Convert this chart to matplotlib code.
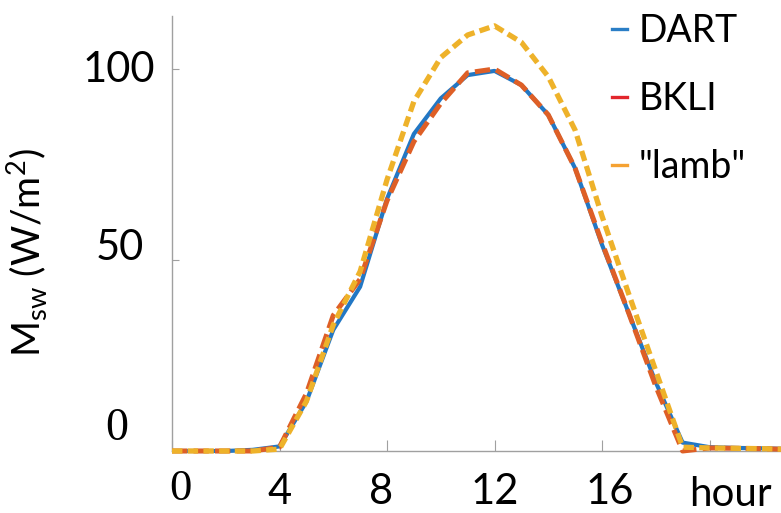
import matplotlib
matplotlib.use("Agg")
import matplotlib.pyplot as plt
import matplotlib.transforms as mtransforms
from matplotlib.lines import Line2D

# ---- data ----
hours = list(range(0, 25))
dart = [0, 0, 0, 0.3, 1.2, 12.9, 31.7, 43, 66, 83, 92.3, 98.4, 99.5, 95.8, 88,
        74, 54, 36, 18, 2.2, 1.0, 0.8, 0.7, 0.5, 0]
bkli = [0, 0, 0, 0, 1.0, 15, 35.5, 45, 65.5, 81, 91, 99, 100, 95.8, 88,
        74, 54.5, 36, 17, 0, 0.8, 0.7, 0.6, 0.4, 0]
lamb = [0, 0, 0, 0, 0.5, 13, 33, 47, 71, 91.5, 103, 108.9, 111.3, 107, 98,
        84, 61.5, 41, 21, 1.0, 0.8, 0.7, 0.6, 0.4, 0]
series_names = ["DART", "BKLI", "\"lamb\""]
x_ticks = [0, 4, 8, 12, 16, 20]
x_ticklabels = ["0", "4", "8", "12", "16", ""]
y_ticks = [0, 50, 100]
y_ticklabels = ["0", "50", "100"]

plt.rcParams['lines.scale_dashes'] = False
FONT = ['Lato', 'DejaVu Sans']
plt.rcParams['font.family'] = FONT
plt.rcParams['mathtext.fontset'] = 'custom'
plt.rcParams['mathtext.rm'] = 'Lato'

W, H = 781, 513
fig = plt.figure(figsize=(W / 100, H / 100), dpi=100)
x0, y0, ytop = 172, 451, 16
ax = fig.add_axes([x0 / W, (H - y0) / H, 1 - x0 / W, (y0 - ytop) / H])

c_blue = "#2277C4"
c_orange = "#DE5F26"
c_yellow = "#EEB22A"

ax.plot(hours, dart, color=c_blue, lw=3.0, solid_capstyle='butt', clip_on=False, zorder=3)
ax.plot(hours, bkli, color=c_orange, lw=3.6, dashes=(11, 4.5), clip_on=False, zorder=4)
ax.plot(hours, lamb, color=c_yellow, lw=3.8, dashes=(7.5, 3.8), clip_on=False, zorder=5)

ax.set_xlim(0, (W - x0) / 26.875)
ax.set_ylim(0, (y0 - ytop) / 3.82)

for s in ['top', 'right']:
    ax.spines[s].set_visible(False)
for s in ['left', 'bottom']:
    ax.spines[s].set_color('#A0A0A0')
    ax.spines[s].set_linewidth(1.0)

TS = 30
ax.set_xticks(x_ticks)
ax.set_xticklabels(x_ticklabels)
ax.set_yticks(y_ticks)
ax.set_yticklabels(y_ticklabels)
ax.tick_params(axis='x', direction='in', length=8, width=0.8, color='#A0A0A0',
               labelsize=TS, pad=16)
ax.tick_params(axis='y', direction='in', length=5, width=0.8, color='#A0A0A0',
               labelsize=TS, pad=12)

# serif zeros and per-label offsets
dpi_trans = fig.dpi_scale_trans
xl = ax.get_xticklabels()
xl[0].set_fontfamily('Liberation Serif')
xl[0].set_fontsize(32)
xl[0].set_transform(xl[0].get_transform() + mtransforms.ScaledTranslation(8 / 100, 4 / 100, dpi_trans))
xl[2].set_transform(xl[2].get_transform() + mtransforms.ScaledTranslation(-6 / 100, 0, dpi_trans))
xl[4].set_transform(xl[4].get_transform() + mtransforms.ScaledTranslation(8 / 100, 0, dpi_trans))
yl = ax.get_yticklabels()
yl[0].set_fontfamily('Liberation Serif')
yl[0].set_fontsize(33)
yl[0].set_transform(yl[0].get_transform() + mtransforms.ScaledTranslation(-27 / 100, 27 / 100, dpi_trans))
yl[1].set_transform(yl[1].get_transform() + mtransforms.ScaledTranslation(-11 / 100, 16 / 100, dpi_trans))
yl[2].set_transform(yl[2].get_transform() + mtransforms.ScaledTranslation(0, 3 / 100, dpi_trans))

ax.text(19.25, 0, "hour", ha='left', va='top', fontsize=29, fontfamily=FONT,
        ).set_transform(ax.get_xaxis_transform() + mtransforms.ScaledTranslation(0, -25 / 100, dpi_trans))

ax.set_ylabel(r"M$_{\mathregular{sw}}$ (W/m$^{\mathregular{2}}$)", fontsize=28)
ax.yaxis.set_label_coords((50 - x0) / (W - x0), (y0 - 253) / (y0 - ytop))

handles = [Line2D([], [], color="#2A7EC6", lw=2.4),
           Line2D([], [], color="#E2262C", lw=2.4),
           Line2D([], [], color="#F5A232", lw=2.4)]
leg = fig.legend(handles, series_names, loc='upper left',
                 bbox_to_anchor=(612 / W, 1 - 13 / H), frameon=False,
                 fontsize=27, handlelength=0.4, handletextpad=0.32,
                 labelspacing=0.85, borderpad=0, borderaxespad=0)

fig.savefig("out.png", dpi=100)
